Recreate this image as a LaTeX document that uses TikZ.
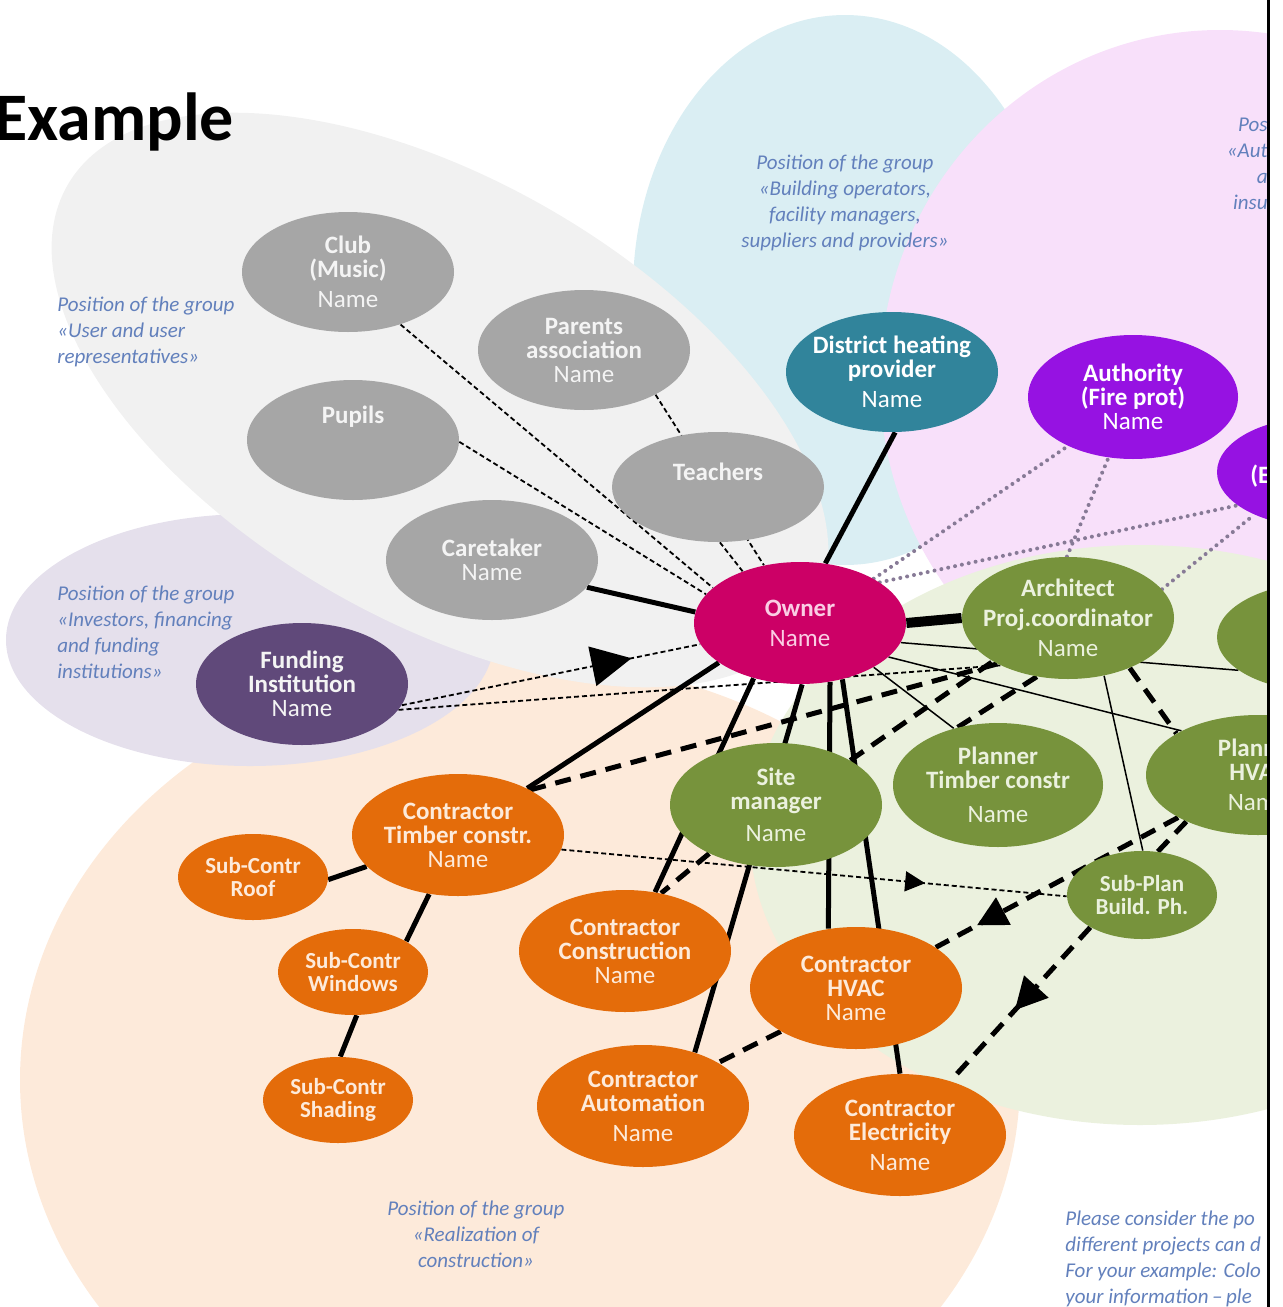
\documentclass[tikz,border=0pt]{standalone}
\usepackage{fontspec}
\setmainfont{Carlito}
\usetikzlibrary{shapes.geometric,arrows.meta,decorations.markings}

\definecolor{usergrey}{RGB}{166,166,166}
\definecolor{usertext}{RGB}{244,244,244}
\definecolor{operteal}{RGB}{49,132,155}
\definecolor{authviolet}{RGB}{150,18,226}
\definecolor{ownerred}{RGB}{204,0,102}
\definecolor{ownertext}{RGB}{250,205,228}
\definecolor{plangreen}{RGB}{119,147,60}
\definecolor{plantext}{RGB}{235,241,222}
\definecolor{buildorange}{RGB}{228,108,10}
\definecolor{buildtext}{RGB}{253,234,218}
\definecolor{fundpurple}{RGB}{96,73,122}
\definecolor{bggrey}{RGB}{241,241,241}
\definecolor{bgblue}{RGB}{218,238,243}
\definecolor{bgpink}{RGB}{248,224,250}
\definecolor{bggreen}{RGB}{235,241,222}
\definecolor{bgpeach}{RGB}{253,234,218}
\definecolor{bglavender}{RGB}{229,224,236}
\definecolor{groupblue}{RGB}{98,128,188}
\definecolor{dotgrey}{RGB}{135,122,150}

\pgfdeclarelayer{groups}
\pgfdeclarelayer{links}
\pgfsetlayers{groups,links,main}

\newcommand{\nameline}{\mdseries Name}

\begin{document}
\begin{tikzpicture}[
    x=0.5pt, y=-0.5pt,
    %–––– NODE STYLES ––––
    actor/.style     = {ellipse, minimum width=106pt, minimum height=61pt,
                        inner xsep=-8pt, inner ysep=0pt, align=center,
                        font=\fontsize{12.5}{12}\selectfont\bfseries},
    subactor/.style  = {minimum width=75pt, minimum height=43pt,
                        font=\fontsize{11.5}{11.5}\selectfont\bfseries},
    usernode/.style  = {actor, fill=usergrey,    text=usertext},
    opernode/.style  = {actor, fill=operteal,    text=white},
    authnode/.style  = {actor, fill=authviolet,  text=white},
    ownernode/.style = {actor, fill=ownerred,    text=ownertext},
    plannode/.style  = {actor, fill=plangreen,   text=plantext},
    buildnode/.style = {actor, fill=buildorange, text=buildtext},
    fundnode/.style  = {actor, fill=fundpurple,  text=usertext},
    grouptext/.style = {inner sep=0pt, text=groupblue,
                        font=\fontsize{10.5}{13}\selectfont\itshape},
    %–––– LINK STYLES ––––
    solidlink/.style = {line width=2.5pt},
    mainlink/.style  = {line width=5pt},
    thinlink/.style  = {line width=0.75pt},
    infolink/.style  = {line width=0.9pt, dash pattern=on 2.5pt off 1.5pt},
    orderlink/.style = {line width=2.5pt, dash pattern=on 8pt off 5pt},
    dotlink/.style   = {dotgrey, line width=2pt, line cap=round, dash pattern=on 0pt off 3.5pt},
    midarrow/.style 2 args = {postaction={decorate}, decoration={markings,
                        mark=at position #1 with {\arrow{Triangle[length=#2, width=#2]}}}},
]
\useasboundingbox (0,0) rectangle (1282,1307);

%–––– GROUP AREAS ––––
\begin{pgfonlayer}{groups}
  \fill[bgpeach]    (520,1080) ellipse [x radius=250pt, y radius=210pt];
  \fill[bgblue]     (845,290)  ellipse [x radius=106pt, y radius=137.5pt];
  \fill[bgpink]     (1220,380) ellipse [x radius=170pt, y radius=175pt];
  \fill[bggreen]    (1140,835) ellipse [x radius=195pt, y radius=145pt];
  \fill[bglavender] (250,640)  ellipse [x radius=122pt, y radius=63pt];
  \fill[bggrey, rotate around={-30:(440,400)}] (440,400) ellipse [x radius=215pt, y radius=110pt];
\end{pgfonlayer}

\node (title) [anchor=base west, inner sep=0pt, font=\fontsize{34}{34}\selectfont\bfseries] at (-6,140) {Example};

%–––– USERS ––––
\node (club)      [usernode, minimum height=60pt] at (348,272) {Club\\(Music)\\[3pt]\nameline};
\node (parents)   [usernode, minimum height=60pt] at (584,350) {Parents\\association\\\nameline};
\node (pupils)    [usernode, minimum height=60pt] at (353,440) {Pupils\\[10pt]\strut};
\node (teachers)  [usernode, minimum height=55pt] at (718,487) {Teachers\\\strut};
\node (caretaker) [usernode, minimum height=60pt] at (492,560) {Caretaker\\\nameline};

%–––– OPERATORS / AUTHORITIES ––––
\node (heating)   [opernode, minimum height=60pt] at (892,372) {District heating\\provider\\[3pt]\nameline};
\node (authority) [authnode, minimum width=105pt, minimum height=62pt] at (1133,397) {Authority\\(Fire prot)\\\nameline};
\node (energy)    [authnode, minimum width=103pt, minimum height=55pt] at (1320,472) {};
\node (energylabel) [anchor=west, inner sep=0pt, text=white,
                     font=\fontsize{12.5}{12}\selectfont\bfseries] at (1250,476) {(E};

%–––– OWNER / FUNDING ––––
\node (owner)     [ownernode] at (800,623) {Owner\\[3pt]\nameline};
\node (funding)   [fundnode]  at (302,684) {Funding\\Institution\\\nameline};

%–––– PLANNERS ––––
\node (architect) [plannode] at (1068,618) {Architect\\[3pt]Proj.coordinator\\[3pt]\nameline};
\node (greenr)    [plannode, minimum width=108pt, minimum height=55pt] at (1325,637) {};
\node (site)      [plannode, minimum height=62pt] at (776,805) {Site\\manager\\[4pt]\nameline};
\node (plannert)  [plannode, minimum width=105pt, minimum height=62pt] at (998,785) {Planner\\Timber constr\\[5pt]\nameline};
\node (plannerh)  [plannode, minimum width=112pt, minimum height=60pt] at (1258,775) {Planner\\HVAC\\[3pt]\nameline};
\node (subplan)   [plannode, subactor, minimum height=44pt] at (1142,895) {Sub-Plan\\Build. Ph.};

%–––– BUILDERS ––––
\node (timber)       [buildnode] at (458,835)  {Contractor\\Timber constr.\\\nameline};
\node (roof)         [buildnode, subactor] at (253,877)  {Sub-Contr\\Roof};
\node (windows)      [buildnode, subactor] at (353,972)  {Sub-Contr\\Windows};
\node (shading)      [buildnode, subactor] at (338,1100) {Sub-Contr\\Shading};
\node (construction) [buildnode] at (625,951)  {Contractor\\Construction\\\nameline};
\node (hvac)         [buildnode] at (856,988)  {Contractor\\HVAC\\\nameline};
\node (automation)   [buildnode] at (643,1106) {Contractor\\Automation\\[3pt]\nameline};
\node (electricity)  [buildnode] at (900,1135) {Contractor\\Electricity\\[3pt]\nameline};

%–––– GROUP LABELS ––––
\node (userpos)  [grouptext, anchor=north west, align=left]   at (57,297)   {Position of the group\\«User and user\\representatives»};
\node (fundpos)  [grouptext, anchor=north west, align=left]   at (57,586)   {Position of the group\\«Investors, financing\\and funding\\institutions»};
\node (operpos)  [grouptext, anchor=north, align=center]      at (845,155)  {Position of the group\\«Building operators,\\facility managers,\\suppliers and providers»};
\node (buildpos) [grouptext, anchor=north, align=center]      at (476,1201) {Position of the group\\«Realization of\\construction»};
\node (authpos)  [grouptext, anchor=north east, align=right]  at (1268,118)  {Pos\\«Aut\\a\\insu};
\node (notepos)  [grouptext, anchor=north west, align=left]   at (1065,1211) {Please consider the po\\different projects can d\\For your example: Colo\\your information\,--\,ple};

%–––– LINKS ––––
\begin{pgfonlayer}{links}
  \foreach \a/\b in {owner.174/caretaker.-16, owner.67/heating.-87, owner.206/timber.34,
                     owner.-130/construction.63, owner.-88/automation.46, owner.-63/hvac.115,
                     owner.-53/electricity.90, timber.199/roof.-2, timber.-116/windows.30,
                     windows.-85/shading.87}
    \draw[solidlink] (\a) -- (\b);
  \draw[mainlink] (owner.0) -- (architect.180);

  \foreach \a/\b in {owner.-31/plannert.128, owner.-21/plannerh.150,
                     owner.-11/greenr.201, architect.-58/subplan.89}
    \draw[thinlink] (\a) -- (\b);

  \foreach \a/\b in {timber.32/architect.-147, site.31/architect.-150,
                     architect.-118/plannert.125, architect.-39/plannerh.153,
                     plannerh.213/subplan.70, site.216/construction.58, hvac.210/automation.30}
    \draw[orderlink] (\a) -- (\b);
  \draw[orderlink, midarrow={0.83}{15pt}] (plannerh.208) -- (hvac.27);
  \draw[orderlink, midarrow={0.54}{16pt}] (subplan.212) -- (electricity.47);

  \foreach \a/\b in {club.-45/owner.158, pupils.-1/owner.163, parents.-32/owner.122,
                     teachers.-88/owner.138, funding.-15/architect.215}
    \draw[infolink] (\a) -- (\b);
  \draw[infolink, midarrow={0.77}{20pt}] (funding.-12) -- (owner.192);
  \draw[infolink, midarrow={0.72}{10pt}] (timber.-8) -- (subplan.181);

  \foreach \a/\b in {owner.31/authority.217, owner.27/energy.202,
                     architect.91/authority.-112, architect.17/energy.213}
    \draw[dotlink] (\a) -- (\b);
\end{pgfonlayer}

%–––– FRAME EDGE ––––
\fill[white] (1269,-10) rectangle (1300,1320);
\draw[line width=1.5pt] (1268,0) -- (1268,1307);
\end{tikzpicture}
\end{document}
